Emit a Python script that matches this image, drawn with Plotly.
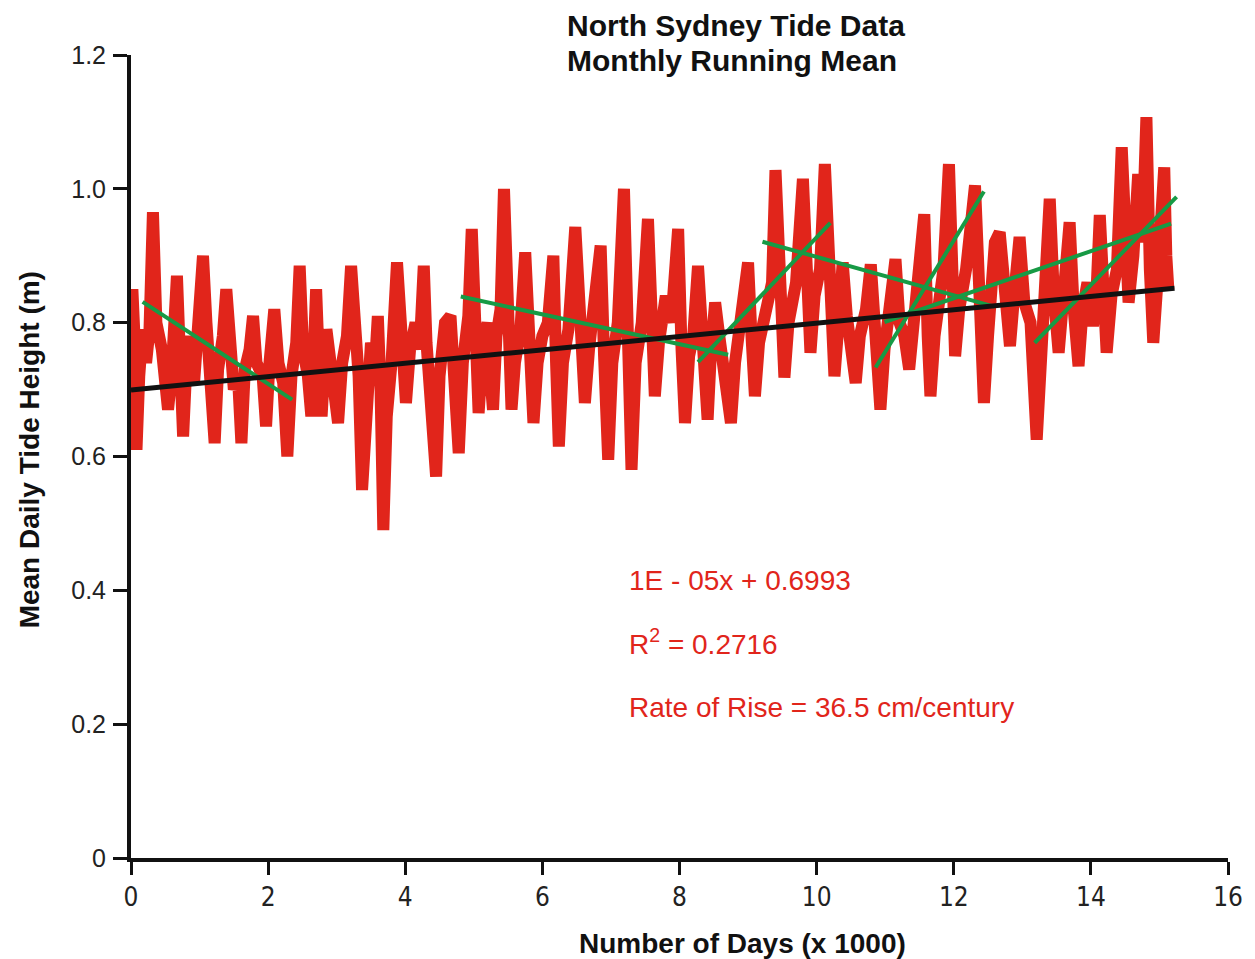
import plotly.graph_objects as go

# Monthly running mean of daily tide height, North Sydney (days in thousands, height in m)
days_k = [
    0.00, 0.02, 0.05, 0.08, 0.12, 0.17, 0.22, 0.27, 0.32, 0.37, 0.45, 0.50,
    0.54, 0.59, 0.63, 0.67, 0.71, 0.76, 0.80, 0.86, 0.92, 0.99, 1.05, 1.10,
    1.16, 1.22, 1.27, 1.34, 1.39, 1.44, 1.50, 1.56, 1.61, 1.66, 1.73, 1.78,
    1.83, 1.92, 1.97, 2.02, 2.09, 2.15, 2.22, 2.28, 2.34, 2.41, 2.46, 2.51,
    2.58, 2.63, 2.67, 2.70, 2.74, 2.78, 2.85, 2.92, 3.02, 3.08, 3.15, 3.21,
    3.27, 3.32, 3.37, 3.43, 3.50, 3.56, 3.60, 3.64, 3.68, 3.73, 3.80, 3.88,
    3.94, 4.01, 4.07, 4.15, 4.21, 4.27, 4.31, 4.35, 4.45, 4.50, 4.58, 4.66,
    4.72, 4.78, 4.84, 4.92, 4.97, 5.02, 5.07, 5.13, 5.20, 5.24, 5.28, 5.33,
    5.39, 5.44, 5.49, 5.55, 5.60, 5.68, 5.75, 5.81, 5.87, 5.93, 6.00, 6.08,
    6.16, 6.20, 6.24, 6.30, 6.38, 6.48, 6.55, 6.62, 6.68, 6.76, 6.85, 6.90,
    6.96, 7.02, 7.10, 7.19, 7.24, 7.30, 7.36, 7.45, 7.54, 7.59, 7.64, 7.70,
    7.80, 7.88, 7.98, 8.03, 8.08, 8.14, 8.20, 8.27, 8.33, 8.41, 8.46, 8.52,
    8.58, 8.66, 8.75, 8.81, 8.90, 9.00, 9.05, 9.10, 9.16, 9.28, 9.35, 9.40,
    9.46, 9.53, 9.59, 9.70, 9.80, 9.86, 9.91, 9.97, 10.05, 10.12, 10.18, 10.26,
    10.32, 10.38, 10.44, 10.50, 10.57, 10.63, 10.72, 10.79, 10.85, 10.93, 10.99, 11.08,
    11.15, 11.21, 11.28, 11.35, 11.41, 11.50, 11.57, 11.62, 11.66, 11.72, 11.85, 11.93,
    11.98, 12.02, 12.08, 12.18, 12.31, 12.37, 12.44, 12.50, 12.60, 12.67, 12.74, 12.82,
    12.88, 12.96, 13.03, 13.12, 13.21, 13.27, 13.34, 13.40, 13.46, 13.53, 13.60, 13.69,
    13.75, 13.82, 13.88, 13.95, 14.03, 14.08, 14.13, 14.18, 14.23, 14.30, 14.38, 14.45,
    14.50, 14.55, 14.62, 14.69, 14.75, 14.81, 14.86, 14.91, 14.97, 15.02, 15.07, 15.10,
    15.13,
]
height_m = [
    0.76, 0.85, 0.78, 0.61, 0.72, 0.79, 0.74, 0.79, 0.965, 0.80, 0.76, 0.72,
    0.67, 0.72, 0.78, 0.87, 0.76, 0.63, 0.72, 0.78, 0.71, 0.80, 0.90, 0.80,
    0.72, 0.62, 0.73, 0.78, 0.85, 0.76, 0.70, 0.72, 0.62, 0.73, 0.76, 0.81,
    0.74, 0.72, 0.645, 0.74, 0.82, 0.74, 0.71, 0.60, 0.72, 0.77, 0.885, 0.76,
    0.72, 0.66, 0.76, 0.85, 0.74, 0.66, 0.79, 0.74, 0.65, 0.74, 0.78, 0.885,
    0.78, 0.72, 0.55, 0.70, 0.77, 0.74, 0.81, 0.70, 0.49, 0.66, 0.74, 0.89,
    0.76, 0.68, 0.76, 0.80, 0.76, 0.885, 0.77, 0.72, 0.57, 0.72, 0.80, 0.81,
    0.72, 0.605, 0.74, 0.81, 0.94, 0.78, 0.665, 0.76, 0.80, 0.72, 0.67, 0.78,
    0.82, 1.0, 0.78, 0.67, 0.74, 0.79, 0.905, 0.74, 0.65, 0.74, 0.78, 0.80,
    0.90, 0.74, 0.615, 0.74, 0.79, 0.943, 0.77, 0.68, 0.76, 0.82, 0.915, 0.75,
    0.595, 0.74, 0.80, 1.0, 0.75, 0.58, 0.74, 0.80, 0.955, 0.78, 0.69, 0.77,
    0.84, 0.80, 0.94, 0.76, 0.65, 0.75, 0.78, 0.885, 0.76, 0.655, 0.76, 0.83,
    0.78, 0.72, 0.65, 0.74, 0.80, 0.89, 0.78, 0.69, 0.77, 0.84, 0.86, 1.028,
    0.84, 0.718, 0.80, 0.86, 1.015, 0.85, 0.755, 0.84, 0.88, 1.037, 0.84, 0.72,
    0.80, 0.89, 0.81, 0.76, 0.71, 0.78, 0.82, 0.887, 0.78, 0.67, 0.76, 0.82,
    0.895, 0.80, 0.78, 0.73, 0.80, 0.86, 0.962, 0.78, 0.69, 0.78, 0.88, 1.037,
    0.84, 0.75, 0.82, 0.88, 1.005, 0.80, 0.68, 0.78, 0.92, 0.935, 0.86, 0.765,
    0.84, 0.928, 0.83, 0.80, 0.625, 0.76, 0.84, 0.985, 0.84, 0.755, 0.84, 0.95,
    0.82, 0.735, 0.82, 0.86, 0.795, 0.84, 0.961, 0.82, 0.755, 0.84, 0.88, 1.062,
    0.90, 0.83, 0.90, 1.022, 0.92, 1.107, 0.88, 0.77, 0.86, 0.93, 1.032, 0.90,
    0.85,
]

# Linear trend (per day): y = slope * days + intercept
trend_slope_per_day = 1e-05
trend_intercept = 0.6993
trend_days_k = [0.0, 15.22]

# Short local trend segments: start and end points
segment_x0 = [0.17, 4.81, 8.27, 9.21, 10.86, 10.99, 13.18]
segment_y0 = [0.831, 0.839, 0.741, 0.921, 0.733, 0.801, 0.770]
segment_x1 = [2.35, 8.71, 10.20, 12.59, 12.44, 15.17, 15.25]
segment_y1 = [0.685, 0.752, 0.949, 0.824, 0.996, 0.948, 0.988]

x_ticks = [0, 2, 4, 6, 8, 10, 12, 14, 16]
y_ticks = [0, 0.2, 0.4, 0.6, 0.8, 1.0, 1.2]
y_tick_text = ["0", "0.2", "0.4", "0.6", "0.8", "1.0", "1.2"]

RED = "#e1251b"
GREEN = "#179a45"

fig = go.Figure()

fig.add_trace(go.Scatter(
    x=days_k, y=height_m, mode="lines",
    line=dict(color=RED, width=12),
    showlegend=False, hoverinfo="skip",
))

for x0, y0, x1, y1 in zip(segment_x0, segment_y0, segment_x1, segment_y1):
    fig.add_trace(go.Scatter(
        x=[x0, x1], y=[y0, y1], mode="lines",
        line=dict(color=GREEN, width=4),
        showlegend=False, hoverinfo="skip",
    ))

trend_y = [trend_intercept + trend_slope_per_day * d * 1000 for d in trend_days_k]
fig.add_trace(go.Scatter(
    x=trend_days_k, y=trend_y, mode="lines",
    line=dict(color="#111111", width=5),
    showlegend=False, hoverinfo="skip",
))

FONT = "Liberation Sans, Arial, sans-serif"
NARROW = "Liberation Sans Narrow, Arial Narrow, DejaVu Sans Condensed, Liberation Sans, sans-serif"

PLOT_W = 1101
PLOT_H = 803


def px_x(px):
    return (px - 131) / PLOT_W


def px_y(py):
    return (858 - py) / PLOT_H


fig.update_layout(
    width=1255, height=959,
    margin=dict(l=131, r=23, t=55, b=101),
    paper_bgcolor="white", plot_bgcolor="white",
    font=dict(family=FONT, color="#222222"),
    xaxis=dict(
        range=[0, 16], tickvals=x_ticks, ticktext=[str(t) for t in x_ticks],
        showline=True, linecolor="#111111", linewidth=4,
        ticks="outside", ticklen=13, tickwidth=3, tickcolor="#111111",
        showgrid=False, zeroline=False,
        tickfont=dict(family=NARROW, size=26, color="#222222"),
    ),
    yaxis=dict(
        range=[0, 1.2], tickvals=y_ticks, ticktext=y_tick_text,
        showline=True, linecolor="#111111", linewidth=4,
        ticks="outside", ticklen=14, tickwidth=3, tickcolor="#111111",
        ticklabelstandoff=2,
        showgrid=False, zeroline=False,
        tickfont=dict(family=FONT, size=25, color="#222222"),
    ),
    annotations=[
        dict(text="<b>North Sydney Tide Data</b>",
             xref="paper", yref="paper", x=px_x(567), y=px_y(25),
             xanchor="left", yanchor="middle", align="left", showarrow=False,
             font=dict(family=FONT, size=30, color="#111111")),
        dict(text="<b>Monthly Running Mean</b>",
             xref="paper", yref="paper", x=px_x(567), y=px_y(60),
             xanchor="left", yanchor="middle", align="left", showarrow=False,
             font=dict(family=FONT, size=30, color="#111111")),
        dict(text="<b>Number of Days (x 1000)</b>",
             xref="paper", yref="paper", x=px_x(745), y=px_y(943),
             xanchor="center", yanchor="middle", showarrow=False,
             font=dict(family=FONT, size=28, color="#111111")),
        dict(text="<b>Mean Daily Tide Height (m)</b>", textangle=-90,
             xref="paper", yref="paper", x=px_x(29), y=px_y(450),
             xanchor="center", yanchor="middle", showarrow=False,
             font=dict(family=FONT, size=28, color="#111111")),
        dict(text="1E - 05x + 0.6993",
             xref="paper", yref="paper", x=px_x(629), y=px_y(580),
             xanchor="left", yanchor="middle", showarrow=False,
             font=dict(family=FONT, size=28, color=RED)),
        dict(text="R<sup>2</sup> = 0.2716",
             xref="paper", yref="paper", x=px_x(629), y=px_y(642),
             xanchor="left", yanchor="middle", showarrow=False,
             font=dict(family=FONT, size=28, color=RED)),
        dict(text="Rate of Rise = 36.5 cm/century",
             xref="paper", yref="paper", x=px_x(629), y=px_y(707),
             xanchor="left", yanchor="middle", showarrow=False,
             font=dict(family=FONT, size=28, color=RED)),
    ],
)

fig.write_html("out.html")
